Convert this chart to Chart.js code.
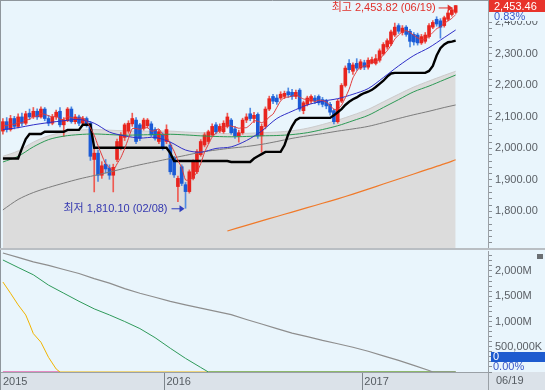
<!DOCTYPE html>
<html>
<head>
<meta charset="utf-8">
<script src="https://cdn.jsdelivr.net/npm/chart.js@4.4.1/dist/chart.umd.min.js"></script>
<style>
  body { margin: 0; background: #e9f5fc; }
  #wrap { position: relative; width: 545px; height: 390px; background: #b9bec3; overflow: hidden; }
  canvas { position: absolute; left: 0; }
</style>
</head>
<body>
<div id="wrap">
  <canvas id="priceChart" width="545" height="248" style="top:0"></canvas>
  <canvas id="volChart" width="545" height="140" style="top:250px"></canvas>
</div>
<script>
const FONT = "'Liberation Sans', 'Noto Sans CJK KR', sans-serif";

// weekly candles, first week starts 2015-03-09
const startDate = '2015-03-09';
const emptyWeeks = 8; // blank space right of the last candle

const opens = [
  2055,2085,2060,2095,2070,2100,2080,2112,2100,2118,
  2100,2125,2095,2080,2100,2118,2075,2088,2125,2085,
  2100,2080,2095,2080,1965,1985,1915,1950,1938,1915,
  1965,2005,2035,2055,2078,2090,2075,2064,2072,2078,
  2060,2022,2043,2022,2011,1969,1879,1942,1885,1863,
  1905,1926,1980,2011,2022,2043,2075,2055,2053,2070,
  2090,2062,2040,2050,2090,2110,2095,2108,2040,2070,
  2125,2165,2160,2160,2165,2180,2178,2165,2185,2120,
  2140,2150,2160,2165,2155,2150,2140,2120,2085,2150,
  2200,2270,2245,2270,2255,2272,2258,2272,2270,2280,
  2300,2322,2332,2360,2390,2368,2385,2372,2362,2360,
  2335,2340,2355,2385,2410,2405,2390,2410,2425,2432
];
const highs = [
  2095,2098,2105,2102,2110,2112,2118,2125,2130,2126,
  2132,2130,2105,2108,2122,2130,2098,2130,2132,2108,
  2106,2102,2100,2086,1998,1995,1958,1965,1948,1950,
  2030,2050,2080,2088,2112,2098,2080,2096,2095,2085,
  2066,2060,2050,2075,2020,1975,1912,1948,1892,1932,
  1964,1996,2028,2050,2058,2078,2082,2078,2088,2112,
  2095,2070,2058,2096,2110,2128,2115,2113,2078,2132,
  2166,2172,2170,2180,2182,2192,2188,2185,2190,2150,
  2166,2170,2168,2170,2162,2156,2146,2125,2156,2206,
  2262,2282,2272,2285,2282,2280,2288,2290,2298,2316,
  2336,2348,2376,2398,2396,2390,2390,2378,2368,2366,
  2362,2368,2396,2406,2418,2412,2420,2437,2446,2453.82
];
const lows = [
  2045,2052,2055,2062,2065,2072,2075,2092,2095,2092,
  2096,2088,2072,2075,2092,2068,2038,2085,2080,2078,
  2072,2072,2068,1962,1862,1895,1905,1922,1902,1862,
  1958,1995,2025,2048,2070,2015,2025,2058,2065,2038,
  2026,2015,1995,2015,1918,1908,1831,1882,1810.1,1858,
  1900,1920,1975,2005,2015,2038,2046,2050,2048,2065,
  2045,2032,2020,2045,2082,2088,2082,2032,1988,2062,
  2120,2142,2140,2155,2158,2162,2156,2158,2118,2110,
  2135,2142,2142,2138,2132,2126,2106,2078,2080,2145,
  2195,2240,2235,2248,2250,2250,2252,2268,2265,2274,
  2296,2315,2326,2355,2365,2360,2356,2322,2328,2328,
  2330,2334,2350,2380,2388,2350,2385,2405,2420,2428
];
const closes = [
  2085,2060,2095,2070,2100,2080,2110,2100,2118,2100,
  2125,2095,2080,2100,2115,2075,2090,2125,2085,2100,
  2080,2095,2075,1975,1985,1915,1945,1935,1915,1940,
  2022,2043,2075,2080,2095,2022,2032,2090,2090,2043,
  2032,2053,2001,2060,1926,1916,1905,1889,1863,1926,
  1958,1990,2022,2043,2053,2070,2053,2070,2080,2100,
  2050,2040,2050,2090,2100,2095,2105,2040,2070,2125,
  2158,2150,2148,2172,2175,2170,2165,2178,2125,2145,
  2160,2165,2150,2145,2140,2135,2115,2085,2150,2200,
  2255,2250,2265,2255,2275,2258,2280,2282,2285,2310,
  2330,2342,2370,2385,2372,2382,2362,2340,2338,2335,
  2355,2360,2390,2400,2395,2385,2415,2430,2440,2453.46
];
const changePct = 0.83;

// short moving average (red), one value per week
const ma5 = [
  2075,2072,2078,2076,2082,2081,2091,2092,2102,2102,
  2111,2108,2104,2100,2103,2093,2092,2101,2098,2095,
  2096,2097,2087,2065,2042,2009,1979,1951,1939,1930,
  1951,1971,1999,2032,2063,2063,2061,2064,2066,2055,
  2057,2062,2044,2038,2014,1991,1962,1939,1900,1900,
  1908,1925,1952,1988,2013,2036,2048,2058,2065,2075,
  2071,2068,2064,2066,2066,2075,2088,2086,2082,2087,
  2100,2109,2130,2151,2161,2163,2166,2172,2163,2157,
  2155,2155,2149,2153,2152,2147,2137,2124,2125,2137,
  2161,2188,2224,2245,2260,2261,2267,2270,2276,2283,
  2297,2310,2327,2347,2360,2370,2374,2368,2359,2351,
  2346,2346,2356,2368,2380,2386,2397,2405,2413,2425
];

// thick black step line, one value per week
const baseLine = [
  1968,1968,1968,1968,1968,2000,2030,2046,2046,2046,
  2046,2053,2053,2053,2053,2053,2053,2059,2059,2059,
  2059,2075,2075,2075,2002,2002,2002,2002,2002,2002,
  2002,2002,2002,2002,2002,2002,2002,2002,2002,2002,
  2002,2002,2002,2002,1985,1960,1960,1960,1960,1960,
  1960,1960,1960,1960,1960,1960,1960,1960,1960,1960,
  1957,1957,1957,1957,1957,1957,1968,1975,1982,1989,
  1989,1989,1989,1989,2010,2045,2070,2090,2097,2097,
  2097,2097,2097,2097,2097,2097,2097,2105,2115,2125,
  2138,2148,2156,2162,2170,2176,2180,2186,2195,2205,
  2215,2228,2238,2240,2240,2240,2240,2240,2240,2240,
  2240,2240,2246,2262,2295,2318,2330,2337,2339,2342
];

// smoother lines, read every 4 weeks
const sampleWeeks = [0,4,8,12,16,20,24,28,32,36,40,44,48,52,56,60,64,68,72,76,80,84,88,92,96,100,104,108,112,116,119];
const ma20 = [2060,2066,2075,2082,2088,2092,2080,2052,2040,2033,2035,2020,1995,1988,2000,2005,2025,2055,2095,2118,2138,2150,2158,2172,2190,2225,2262,2295,2320,2352,2376];
const ma60 = [1957,1975,2005,2028,2039,2044,2046,2044,2042,2043,2044,2045,2043,2040,2038,2037,2038,2040,2041,2044,2050,2060,2072,2088,2105,2130,2155,2180,2198,2218,2233];
const ma120 = [1805,1838,1860,1876,1890,1903,1914,1925,1937,1948,1958,1968,1978,1988,1995,2001,2006,2013,2022,2032,2040,2047,2055,2062,2070,2082,2095,2107,2118,2130,2138];
const cloudTop = [1975,1992,2020,2040,2052,2058,2060,2058,2056,2055,2055,2055,2052,2050,2048,2047,2048,2050,2052,2056,2064,2076,2090,2106,2124,2148,2172,2195,2214,2232,2245];
const longWeeks = [59,64,68,72,76,80,84,88,92,96,100,104,108,112,116,119];
const ma240 = [1738,1756,1770,1784,1798,1812,1826,1840,1855,1871,1887,1903,1919,1935,1951,1964];

// lower panel, in millions
const grayWeeks = [0,4,8,12,16,20,24,28,32,36,40,44,48,52,56,60,64,68,72,76,80,84,88,92,96,100,104,108,112,113,119];
const grayVals = [2356,2270,2180,2110,2030,1950,1850,1760,1650,1560,1480,1400,1330,1265,1200,1135,1040,950,860,770,700,625,560,490,410,320,230,130,30,0,0];
const greenWeeks = [0,4,8,12,16,20,24,28,32,36,40,44,48,52,54,119];
const greenVals = [2218,2070,1925,1720,1560,1400,1250,1130,1000,860,680,470,270,90,0,0];
const yellowWeeks = [0,2,4,6,7,8,10,12,14,15,119];
const yellowVals = [1782,1560,1330,1130,950,760,590,290,60,0,0];
const pinkWeeks = [0,15];
const pinkVals = [0,0];

// weekly category labels
const labels = [];
const d0 = new Date(startDate + 'T00:00:00Z');
for (let i = 0; i < closes.length + emptyWeeks; i++) {
  labels.push(new Date(d0.getTime() + i * 7 * 86400000).toISOString().slice(0, 10));
}

function points(weeks, vals) {
  return weeks.map((w, k) => ({x: labels[w], y: vals[k]}));
}
function fmt(v) {
  return v.toLocaleString('en-US', {minimumFractionDigits: 2, maximumFractionDigits: 2});
}
function mmdd(s) {
  return s.slice(5, 7) + '/' + s.slice(8, 10);
}
function isYearStart(i) {
  return i > 0 && labels[i].slice(0, 4) !== labels[i - 1].slice(0, 4);
}

const up = closes.map((c, i) => c >= opens[i]);
const bodyColors = up.map(u => u ? '#e8241e' : '#1b5bd6');
const wickColors = up.map(u => u ? '#ef5a52' : '#4f8be2');

const priceTicks = [];
for (let v = 1700; v <= 2460; v += 20) priceTicks.push(v);
const volTicks = [];
for (let v = 0; v <= 2300; v += 100) volTicks.push(v);

const tickFont = {family: FONT, size: 11};

// background, frame and bottom date band
const paintBg = {
  id: 'paintBg',
  beforeDraw(chart, args, opts) {
    const {ctx, width, height, chartArea} = chart;
    ctx.save();
    ctx.fillStyle = '#e9f5fc';
    ctx.fillRect(0, 0, width, height);
    if (opts.band) {
      ctx.fillStyle = '#dbe2e9';
      ctx.fillRect(0, chartArea.bottom, width, height - chartArea.bottom);
    }
    ctx.strokeStyle = '#8f969c';
    ctx.lineWidth = 1;
    ctx.beginPath();
    ctx.moveTo(0.5, 0);
    ctx.lineTo(0.5, height);
    if (opts.topLine) {
      ctx.moveTo(0, 0.5);
      ctx.lineTo(width, 0.5);
    }
    ctx.stroke();
    ctx.restore();
  }
};

function drawArrow(ctx, x1, y, x2, color) {
  ctx.strokeStyle = color;
  ctx.fillStyle = color;
  ctx.lineWidth = 1;
  ctx.beginPath();
  ctx.moveTo(x1, y + 0.5);
  ctx.lineTo(x2 - 3, y + 0.5);
  ctx.stroke();
  ctx.beginPath();
  ctx.moveTo(x2, y + 0.5);
  ctx.lineTo(x2 - 5, y - 3);
  ctx.lineTo(x2 - 5, y + 4);
  ctx.closePath();
  ctx.fill();
}

// high / low notes and the current price box
const priceMarks = {
  id: 'priceMarks',
  afterDraw(chart) {
    const {ctx, chartArea, width} = chart;
    const xs = chart.scales.x, ys = chart.scales.y;
    const hiVal = Math.max(...highs), hiIdx = highs.indexOf(hiVal);
    const loVal = Math.min(...lows), loIdx = lows.indexOf(loVal);
    ctx.save();
    ctx.font = '11px ' + FONT;
    ctx.textBaseline = 'middle';

    let tx = xs.getPixelForValue(hiIdx) - 3;
    let ty = ys.getPixelForValue(hiVal) + 2;
    drawArrow(ctx, tx - 14, ty, tx, '#e0302a');
    ctx.fillStyle = '#e0302a';
    ctx.textAlign = 'right';
    ctx.fillText(`최고 ${fmt(hiVal)} (${mmdd(labels[hiIdx])})`, tx - 17, ty + 1);

    tx = xs.getPixelForValue(loIdx) - 1;
    ty = ys.getPixelForValue(loVal);
    drawArrow(ctx, tx - 13, ty, tx, '#2f3fc0');
    ctx.fillStyle = '#3438b0';
    ctx.fillText(`최저 ${fmt(loVal)} (${mmdd(labels[loIdx])})`, tx - 17, ty + 1);

    const last = closes.length - 1;
    const bx = chartArea.right + 1;
    const top = Math.max(0, ys.getPixelForValue(closes[last]) - 6);
    ctx.fillStyle = '#e8332b';
    ctx.fillRect(bx, top, width - bx, 12);
    ctx.fillStyle = '#ffffff';
    ctx.textAlign = 'left';
    ctx.fillText(fmt(closes[last]), bx + 5, top + 6.5);
    ctx.fillStyle = '#e9f5fc';
    ctx.fillRect(bx, top + 12, width - bx, 9);
    ctx.fillStyle = '#3a58c8';
    ctx.fillText(changePct.toFixed(2) + '%', bx + 5, top + 17);
    ctx.restore();
  }
};

// last value box, date and small icon on the lower panel
const volMarks = {
  id: 'volMarks',
  afterDraw(chart) {
    const {ctx, chartArea, width, height} = chart;
    const bx = chartArea.right;
    ctx.save();
    ctx.strokeStyle = '#9aa0a6';
    ctx.beginPath();
    ctx.moveTo(bx + 0.5, chartArea.bottom);
    ctx.lineTo(bx + 0.5, height);
    ctx.stroke();
    ctx.font = '11px ' + FONT;
    ctx.textBaseline = 'middle';
    ctx.textAlign = 'left';
    ctx.fillStyle = '#555b61';
    ctx.fillText(mmdd(labels[closes.length - 1]), bx + 8, chartArea.bottom + 9);
    ctx.fillStyle = '#1d5bcf';
    ctx.fillRect(bx + 3, chartArea.bottom - 20, width - bx - 3, 10);
    ctx.fillStyle = '#ffffff';
    ctx.fillText(String(grayVals[grayVals.length - 1]), bx + 5, chartArea.bottom - 15);
    ctx.fillStyle = '#3a58c8';
    ctx.fillText('0.00%', bx + 5, chartArea.bottom - 5);
    ctx.fillStyle = '#6b6f73';
    ctx.fillRect(width - 8, 4, 6, 5);
    ctx.restore();
  }
};

function lineSet(data, color, order, extra) {
  return Object.assign({type: 'line', data: data, borderColor: color, borderWidth: 1, pointRadius: 0, order: order}, extra || {});
}

new Chart(document.getElementById('priceChart'), {
  type: 'bar',
  data: {
    labels: labels,
    datasets: [
      lineSet(points(sampleWeeks, cloudTop), '#cbcbcb', 10, {fill: 'start', backgroundColor: '#dcdcdc'}),
      {label: 'wick', data: lows.map((l, i) => [l, highs[i]]), backgroundColor: wickColors, barThickness: 1, grouped: false, order: 9},
      {label: 'body', data: opens.map((o, i) => [o, closes[i]]), backgroundColor: bodyColors, barThickness: 3, grouped: false, minBarLength: 1, order: 8},
      lineSet(points(longWeeks, ma240), '#f07a2a', 7, {borderWidth: 1.2}),
      lineSet(points(sampleWeeks, ma120), '#7c7c7c', 6),
      lineSet(points(sampleWeeks, ma60), '#2c9a55', 5),
      lineSet(baseLine, '#000000', 4, {borderWidth: 2.4, tension: 0}),
      lineSet(points(sampleWeeks, ma20), '#2f2fc8', 3),
      lineSet(ma5, '#e23a3a', 2, {tension: 0.2})
    ]
  },
  options: {
    responsive: false,
    animation: false,
    devicePixelRatio: 1,
    layout: {padding: {left: 1, top: 1, right: 0, bottom: 0}, autoPadding: false},
    elements: {line: {tension: 0.3}},
    plugins: {legend: {display: false}, tooltip: {enabled: false}, paintBg: {topLine: true}},
    scales: {
      x: {type: 'category', offset: true, display: false, grid: {offset: true}},
      y: {
        position: 'right',
        min: 1684,
        max: 2468,
        afterBuildTicks: s => { s.ticks = priceTicks.map(v => ({value: v})); },
        afterFit: s => { s.width = 57; s.paddingTop = 0; s.paddingBottom = 0; },
        grid: {drawOnChartArea: false, tickLength: 4, tickColor: '#8a9096'},
        border: {color: '#9aa0a6'},
        ticks: {autoSkip: false, font: tickFont, color: '#5b6066', padding: 3, callback: v => (v % 100 === 0 && v > 1700) ? fmt(v) : ''}
      }
    }
  },
  plugins: [paintBg, priceMarks]
});

new Chart(document.getElementById('volChart'), {
  type: 'line',
  data: {
    labels: labels,
    datasets: [
      lineSet(points(grayWeeks, grayVals), '#8e8e8e', 1, {borderWidth: 1.2}),
      lineSet(points(greenWeeks, greenVals), '#2f9a5a', 2),
      lineSet(points(yellowWeeks, yellowVals), '#f0b400', 3),
      lineSet(points(pinkWeeks, pinkVals), '#e0208a', 4)
    ]
  },
  options: {
    responsive: false,
    animation: false,
    devicePixelRatio: 1,
    layout: {padding: {left: 1, top: 1, right: 0, bottom: 0}, autoPadding: false},
    elements: {line: {tension: 0}},
    plugins: {legend: {display: false}, tooltip: {enabled: false}, paintBg: {band: true}},
    scales: {
      x: {
        type: 'category',
        offset: true,
        afterFit: s => { s.height = 18; s.paddingLeft = 0; s.paddingRight = 0; },
        grid: {
          offset: true,
          drawOnChartArea: false,
          tickLength: 18,
          color: c => (c.index !== undefined && isYearStart(c.index)) ? '#7d858c' : 'rgba(0,0,0,0)'
        },
        border: {color: '#9aa0a6'},
        ticks: {
          autoSkip: false,
          maxRotation: 0,
          align: 'start',
          padding: -15,
          font: tickFont,
          color: '#555b61',
          callback: (v, i) => (i === 0 || isYearStart(i)) ? labels[i].slice(0, 4) : ''
        }
      },
      y: {
        position: 'right',
        min: 0,
        max: 2396,
        afterBuildTicks: s => { s.ticks = volTicks.map(v => ({value: v})); },
        afterFit: s => { s.width = 57; s.paddingTop = 0; s.paddingBottom = 0; },
        grid: {drawOnChartArea: false, tickLength: 4, tickColor: '#8a9096'},
        border: {color: '#9aa0a6'},
        ticks: {
          autoSkip: false,
          font: tickFont,
          color: '#5b6066',
          padding: 3,
          callback: v => v === 500 ? '500,000K' : (v > 0 && v % 500 === 0 ? v.toLocaleString('en-US') + 'M' : '')
        }
      }
    }
  },
  plugins: [paintBg, volMarks]
});
</script>
</body>
</html>
